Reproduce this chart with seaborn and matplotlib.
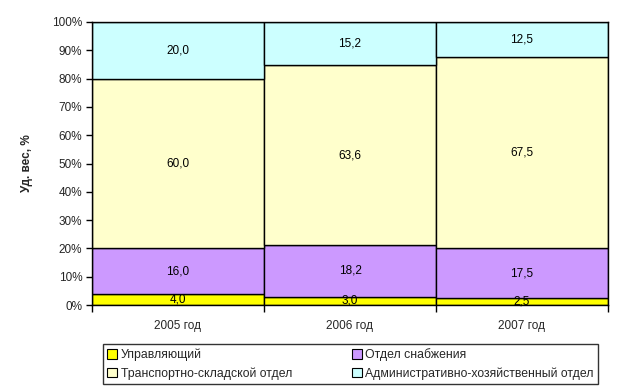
import matplotlib
matplotlib.use("Agg")
import matplotlib.pyplot as plt
import seaborn as sns
import numpy as np
import pandas as pd
from matplotlib.patches import Patch
from matplotlib.ticker import FuncFormatter

years = ["2005 год", "2006 год", "2007 год"]
series_names = ["Управляющий", "Отдел снабжения", "Транспортно-складской отдел",
                "Административно-хозяйственный отдел"]
manager = [4.0, 3.0, 2.5]
supply = [16.0, 18.2, 17.5]
transport = [60.0, 63.6, 67.5]
admin = [20.0, 15.2, 12.5]
colors = ["#FFFF00", "#CC99FF", "#FFFFCC", "#CCFFFF"]

sns.set_style("white")
plt.rcParams["font.family"] = ["Liberation Sans", "DejaVu Sans"]
plt.rcParams["font.size"] = 8.5

fig = plt.figure(figsize=(6.18, 3.91), dpi=100)
ax = fig.add_axes([92/618, 1-305/391, (608-92)/618, (305-22)/391])

series = [manager, supply, transport, admin]
bottom = np.zeros(len(years))
for name, vals, col in zip(series_names, series, colors):
    df = pd.DataFrame({"year": years, "value": vals})
    sns.barplot(data=df, x="year", y="value", color=col, width=1.0,
                bottom=bottom.copy(), edgecolor="black", linewidth=1.0,
                saturation=1, ax=ax, zorder=2)
    for i, v in enumerate(vals):
        ax.text(i, bottom[i] + v/2, f"{v:.1f}".replace(".", ","),
                ha="center", va="center", fontsize=8.5, color="black", zorder=5)
    bottom += np.array(vals)

ax.set_xlim(-0.5, 2.5)
ax.set_ylim(0, 100)
ax.set_yticks(np.arange(0, 101, 10))
ax.yaxis.set_major_formatter(FuncFormatter(lambda v, p: f"{int(v)}%"))
ax.set_xticks([-0.5, 0.5, 1.5, 2.5], minor=False)
ax.set_xticklabels([])
ax.set_xticks([0, 1, 2], minor=True)
ax.set_xticklabels(years, minor=True)
ax.tick_params(axis="x", which="major", length=5, width=1, color="black", direction="out", bottom=True)
ax.tick_params(axis="x", which="minor", length=0, pad=11)
ax.tick_params(axis="y", length=4, width=1, color="black", direction="out", left=True, pad=3)
ax.set_xlabel("")
ax.set_ylabel("Уд. вес, %", fontweight="bold", fontsize=8.5, labelpad=14)
for s in ax.spines.values():
    s.set_color("black")
    s.set_linewidth(1.0)

handles = [Patch(facecolor=c, edgecolor="black", linewidth=0.8) for c in colors]
order = [0, 2, 1, 3]
leg = fig.legend([handles[i] for i in order], [series_names[i] for i in order],
                 ncol=2, loc="lower left", bbox_to_anchor=(103/618, 1-384/391),
                 frameon=True, fancybox=False, edgecolor="black", fontsize=8.8,
                 handlelength=0.8, handleheight=0.8, handletextpad=0.3,
                 columnspacing=4.9, borderpad=0.35, labelspacing=0.5,
                 borderaxespad=0)
leg.get_frame().set_linewidth(1.0)

fig.savefig("out.png", dpi=100)
